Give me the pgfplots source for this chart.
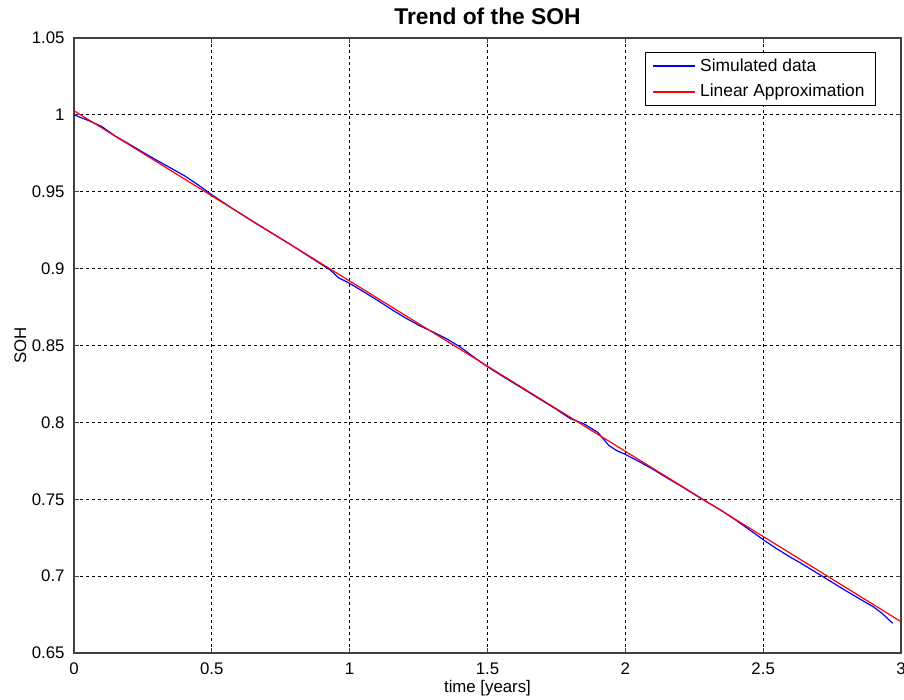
\documentclass[border=0pt]{standalone}
\usepackage{fontspec}
\setmainfont{Liberation Sans}
\usepackage{pgfplots}
\pgfplotsset{compat=1.18}

% Simulated state of health over three years
\pgfplotstableread{
t      soh
0.00   1.0000
0.05   0.9965
0.10   0.9925
0.15   0.9862
0.20   0.9810
0.25   0.9757
0.30   0.9705
0.35   0.9655
0.40   0.9605
0.45   0.9545
0.50   0.9480
0.55   0.9420
0.60   0.9362
0.65   0.9305
0.70   0.9250
0.75   0.9195
0.80   0.9140
0.85   0.9082
0.90   0.9025
0.93   0.8990
0.96   0.8940
1.00   0.8904
1.05   0.8850
1.10   0.8795
1.15   0.8737
1.20   0.8682
1.25   0.8632
1.30   0.8590
1.35   0.8545
1.40   0.8492
1.45   0.8425
1.50   0.8362
1.55   0.8305
1.60   0.8250
1.65   0.8195
1.70   0.8140
1.75   0.8085
1.80   0.8025
1.85   0.7990
1.90   0.7935
1.94   0.7850
1.97   0.7815
2.00   0.7792
2.05   0.7745
2.10   0.7695
2.15   0.7640
2.20   0.7588
2.25   0.7532
2.30   0.7478
2.35   0.7425
2.40   0.7365
2.45   0.7302
2.50   0.7237
2.55   0.7177
2.60   0.7122
2.65   0.7070
2.70   0.7015
2.75   0.6960
2.80   0.6905
2.85   0.6852
2.90   0.6800
2.93   0.6760
2.97   0.6693
}\simdata

% Linear fit
\pgfplotstableread{
t     soh
0.0   1.0027
3.0   0.6704
}\linfit

\begin{document}
\begin{tikzpicture}
\begin{axis}[
  scale only axis,
  width=413.5pt, height=307.5pt,
  xmin=0, xmax=3, ymin=0.65, ymax=1.05,
  xtick={0,0.5,1,1.5,2,2.5,3},
  ytick={0.65,0.7,0.75,0.8,0.85,0.9,0.95,1,1.05},
  tick align=inside,
  major tick length=2.5pt,
  grid=major,
  grid style={black, dash pattern=on 1.5pt off 1.5pt, line width=0.4pt},
  axis line style={black!75, line width=0.6pt},
  tick style={black!75, line width=0.5pt},
  /pgf/number format/assume math mode=true,
  ticklabel style={font=\fontsize{8.4}{10}\selectfont},
  xticklabel style={yshift=-1.2pt},
  yticklabel style={xshift=-1.2pt},
  title={Trend of the SOH},
  title style={font=\fontsize{11.4}{13}\selectfont\bfseries,
    anchor=base, yshift=0.5pt},
  xlabel={time [years]},
  xlabel style={font=\fontsize{8.4}{10}\selectfont,
    at={(axis description cs:0.5,-0.057)}, anchor=center},
  ylabel={SOH},
  ylabel style={font=\fontsize{8.4}{10}\selectfont,
    at={(axis description cs:-0.065,0.5)}, anchor=center},
  legend style={at={(1,1)}, anchor=north east, xshift=-12.5pt, yshift=-7pt,
    font=\fontsize{8.7}{10}\selectfont,
    inner xsep=3.5pt, inner ysep=1pt, row sep=1pt},
  legend cell align=left,
]
\addplot[blue, line width=0.6pt, forget plot] table[x=t, y=soh] {\simdata};
\addplot[red, line width=0.6pt, forget plot] table[x=t, y=soh] {\linfit};
\addlegendimage{legend image code/.code={%
    \draw[draw=blue, line width=0.8pt] (0pt,0pt) -- (21pt,0pt);}}
\addlegendentry{Simulated data}
\addlegendimage{legend image code/.code={%
    \draw[draw=red, line width=0.8pt] (0pt,0pt) -- (21pt,0pt);}}
\addlegendentry{Linear Approximation}
\end{axis}
\pgfresetboundingbox
\path[use as bounding box]
  ([shift={(-37pt,-23.5pt)}]current axis.south west) rectangle
  ([shift={(415pt,326.5pt)}]current axis.south west);
\end{tikzpicture}
\end{document}
